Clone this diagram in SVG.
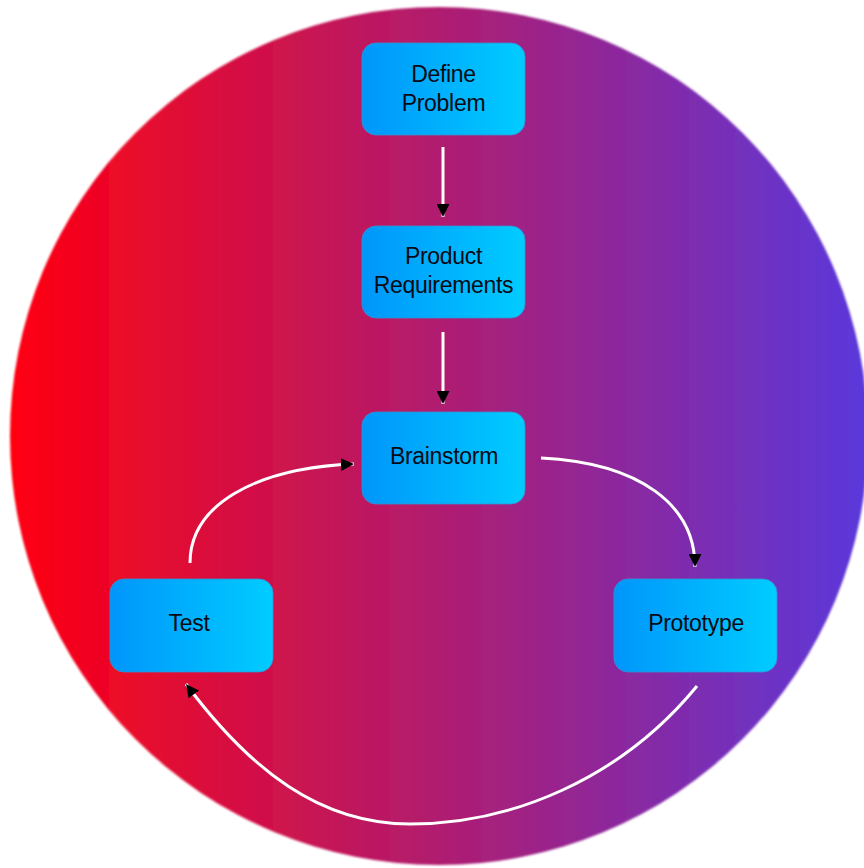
<svg xmlns="http://www.w3.org/2000/svg" width="864" height="868" viewBox="0 0 864 868">
  <defs>
    <linearGradient id="bg" x1="10" y1="0" x2="868" y2="0" gradientUnits="userSpaceOnUse">
      <stop offset="0" stop-color="#ff0010"/>
      <stop offset="0.5" stop-color="#b01d70"/>
      <stop offset="1" stop-color="#5a38dc"/>
    </linearGradient>
    <linearGradient id="node" x1="0" y1="0" x2="1" y2="0">
      <stop offset="0" stop-color="#0096fb"/>
      <stop offset="1" stop-color="#00ccff"/>
    </linearGradient>
    <filter id="blur" x="-5%" y="-5%" width="110%" height="110%">
      <feGaussianBlur stdDeviation="1.2"/>
    </filter>
    <marker id="ah" viewBox="0 0 10 10" refX="10" refY="5" markerWidth="13" markerHeight="13" markerUnits="userSpaceOnUse" orient="auto">
      <path d="M0,0 L10,5 L0,10 Z" fill="#000"/>
    </marker>
  </defs>
  <style>
    .box { fill: url(#node); stroke: #3a8fd0; stroke-width: 0.8; }
    .lbl { font-family: "Liberation Sans", Arial, sans-serif; font-size: 23px; fill: #0a0a14; text-anchor: middle; letter-spacing: -0.3px; }
    .edge { fill: none; stroke: #ffffff; stroke-width: 3; marker-end: url(#ah); }
  </style>
  <rect width="864" height="868" fill="#ffffff"/>
  <circle cx="439" cy="436" r="429" fill="url(#bg)" filter="url(#blur)"/>

  <g id="connectors">
    <path class="edge" d="M443,147 L443,217"/>
    <path class="edge" d="M443,332 L443,404"/>
    <path class="edge" d="M541,458 C640,463 695,505 695,567"/>
    <path class="edge" d="M190,563 C190,505 255,468 354,464"/>
    <path class="edge" d="M697,686 C620,780 510,824 410,824 C320,824 250,770 186,684"/>
  </g>

  <g id="define-problem">
    <rect class="box" x="362" y="43" width="163" height="92" rx="14"/>
    <text class="lbl" x="443.5" y="82">Define</text>
    <text class="lbl" x="443.5" y="111">Problem</text>
  </g>
  <g id="product-requirements">
    <rect class="box" x="362" y="226" width="163" height="92" rx="14"/>
    <text class="lbl" x="443.5" y="264">Product</text>
    <text class="lbl" x="443.5" y="293">Requirements</text>
  </g>
  <g id="brainstorm">
    <rect class="box" x="362" y="412" width="163" height="92" rx="14"/>
    <text class="lbl" x="444" y="464">Brainstorm</text>
  </g>
  <g id="test">
    <rect class="box" x="110" y="579" width="163" height="93" rx="14"/>
    <text class="lbl" x="189" y="631">Test</text>
  </g>
  <g id="prototype">
    <rect class="box" x="614" y="579" width="163" height="93" rx="14"/>
    <text class="lbl" x="696" y="631">Prototype</text>
  </g>
</svg>
